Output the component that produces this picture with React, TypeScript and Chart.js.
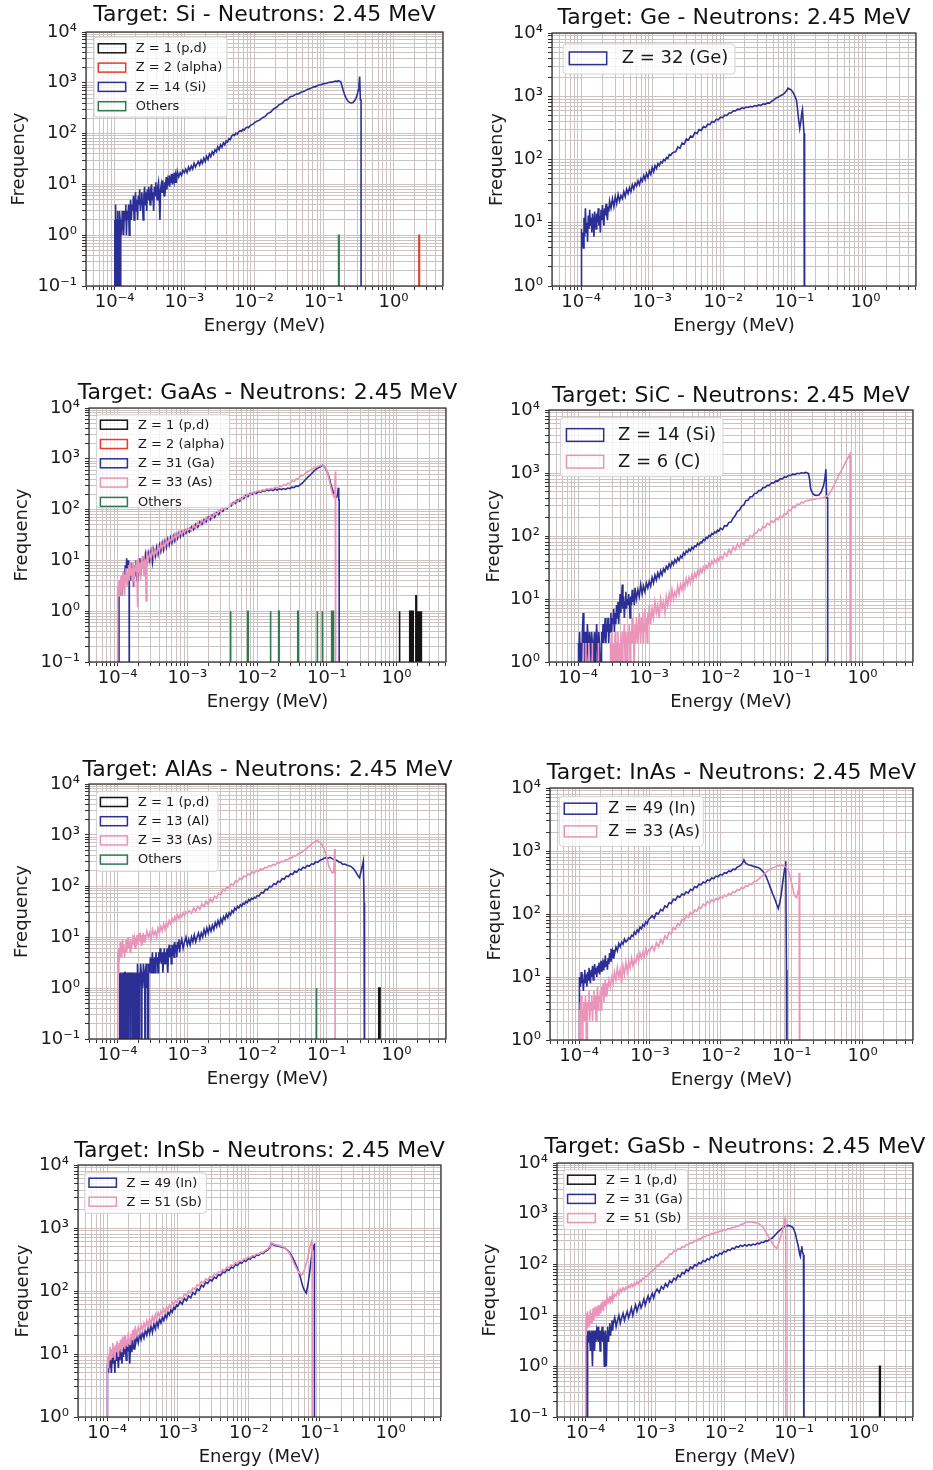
import React, { useEffect, useRef } from 'react';
import { Chart, registerables } from 'chart.js';

Chart.register(...registerables);

// ---------- style ----------
const FONT = '"DejaVu Sans", "Liberation Sans", sans-serif';
const BLUE = '#2b2f95';
const PINK = '#ea94b9';
const GREEN = '#2d7a4c';
const RED = '#e8392b';
const BLACK = '#141414';
const GRID = '#cbc2c2';

// ---------- axes ----------
const X_MIN = 3.89e-5;
const X_MAX = 5.13;
const Y_MAX = 1e4;
const ZERO_FLOOR = 1e-3; // empty bins are drawn below the axis floor

const xTickValues = [1e-4, 1e-3, 1e-2, 1e-1, 1];
const xTickLabels = ['10⁻⁴', '10⁻³', '10⁻²', '10⁻¹', '10⁰'];
const yTickValues = [1e-1, 1, 10, 100, 1000, 10000];
const yTickLabels = ['10⁻¹', '10⁰', '10¹', '10²', '10³', '10⁴'];
const gridMultipliers = [1, 2, 3, 4, 5, 6, 7, 8, 9];
const gridDecades = [-5, -4, -3, -2, -1, 0, 1, 2, 3, 4];

// ---------- data: each pair is [log10(energy / MeV), counts in bin] ----------
// Target Si
const siZ1: number[][] = [];
const siZ2 = [[0.365, 0], [0.365, 1], [0.372, 1], [0.372, 0]];
const siZ14 = [
  [-4.00, 0], [-4.00, 2], [-3.995, 2], [-3.995, 0], [-3.99, 0], [-3.99, 2], [-3.985, 4], [-3.98, 1], [-3.975, 0], [-3.97, 0], [-3.97, 2], [-3.965, 2], [-3.96, 0], [-3.955, 0], [-3.955, 3], [-3.95, 1], [-3.945, 2], [-3.94, 0], [-3.935, 0], [-3.935, 2], [-3.93, 1], [-3.925, 3], [-3.92, 2], [-3.915, 0], [-3.91, 0], [-3.91, 2],
  [-3.90, 1], [-3.89, 3], [-3.88, 2], [-3.87, 1], [-3.86, 3], [-3.85, 2], [-3.84, 4], [-3.83, 1], [-3.82, 3], [-3.81, 2], [-3.80, 4], [-3.79, 1], [-3.78, 3], [-3.77, 5], [-3.76, 2], [-3.75, 4], [-3.74, 3], [-3.73, 6], [-3.72, 2], [-3.71, 4], [-3.70, 7], [-3.69, 3], [-3.68, 5], [-3.67, 2], [-3.66, 6], [-3.65, 4], [-3.64, 8], [-3.63, 3], [-3.62, 5], [-3.61, 7], [-3.60, 4], [-3.59, 2], [-3.58, 6], [-3.57, 9], [-3.56, 4], [-3.55, 7], [-3.54, 3], [-3.53, 8], [-3.52, 5], [-3.51, 9], [-3.50, 6], [-3.49, 4], [-3.48, 8], [-3.47, 10], [-3.46, 5], [-3.45, 7], [-3.44, 3], [-3.43, 9], [-3.42, 6], [-3.41, 11], [-3.40, 7], [-3.39, 5], [-3.38, 9], [-3.37, 11], [-3.36, 6], [-3.35, 2], [-3.34, 8], [-3.33, 10], [-3.32, 7], [-3.31, 12], [-3.30, 8], [-3.29, 6], [-3.28, 11], [-3.27, 9], [-3.26, 14], [-3.25, 8], [-3.24, 12], [-3.23, 10], [-3.22, 15], [-3.21, 9], [-3.20, 13], [-3.19, 11], [-3.18, 16], [-3.17, 10], [-3.16, 14], [-3.15, 12], [-3.14, 17], [-3.13, 11], [-3.12, 15], [-3.11, 13], [-3.10, 18], [-3.08, 14], [-3.06, 17], [-3.04, 15], [-3.02, 19], [-3.00, 17],
  [-2.98, 20], [-2.96, 17], [-2.94, 22], [-2.92, 19], [-2.90, 23], [-2.88, 20], [-2.86, 26], [-2.84, 22], [-2.82, 25], [-2.80, 28], [-2.78, 24], [-2.76, 30], [-2.74, 26], [-2.72, 33], [-2.70, 28], [-2.68, 36], [-2.66, 31], [-2.64, 40], [-2.62, 35], [-2.60, 44], [-2.58, 39], [-2.56, 48], [-2.54, 44], [-2.52, 55], [-2.50, 48], [-2.48, 60], [-2.46, 54], [-2.44, 66], [-2.42, 60], [-2.40, 72], [-2.38, 68], [-2.36, 80], [-2.34, 76], [-2.32, 90], [-2.30, 95], [-2.28, 92], [-2.26, 102], [-2.24, 98], [-2.22, 108], [-2.20, 114], [-2.18, 110], [-2.16, 122], [-2.14, 118], [-2.12, 128], [-2.10, 134], [-2.08, 130], [-2.06, 142], [-2.04, 148], [-2.02, 152], [-2.00, 160],
  [-1.96, 176], [-1.92, 184], [-1.88, 206], [-1.84, 218], [-1.80, 250], [-1.76, 266], [-1.72, 306], [-1.68, 326], [-1.64, 372], [-1.60, 392], [-1.56, 448], [-1.52, 470], [-1.48, 532], [-1.44, 552], [-1.40, 598], [-1.36, 612], [-1.32, 658], [-1.28, 680], [-1.24, 740], [-1.20, 760], [-1.16, 820], [-1.12, 840], [-1.08, 898], [-1.04, 914], [-1.00, 962], [-0.96, 976], [-0.92, 1020], [-0.88, 1030], [-0.85, 1064], [-0.83, 1085], [-0.81, 1060], [-0.79, 1100], [-0.77, 1080], [-0.755, 1040],
  [-0.74, 880], [-0.72, 700], [-0.70, 580], [-0.68, 500], [-0.66, 450], [-0.64, 420], [-0.62, 405], [-0.60, 400], [-0.58, 412], [-0.56, 440], [-0.54, 490], [-0.52, 580], [-0.505, 720], [-0.495, 950], [-0.485, 1330], [-0.475, 460], [-0.465, 460], [-0.465, 0],
];
const siOthers = [[-0.787, 0], [-0.787, 1], [-0.780, 1], [-0.780, 0]];

// Target Ge
const geZ32 = [
  [-4.00, 0], [-4.00, 8], [-3.99, 5], [-3.98, 7], [-3.97, 4], [-3.96, 12], [-3.95, 6], [-3.94, 17], [-3.93, 7], [-3.92, 10], [-3.91, 5], [-3.90, 13], [-3.89, 8], [-3.88, 16], [-3.87, 9], [-3.86, 12], [-3.85, 7], [-3.84, 14], [-3.83, 10], [-3.82, 6], [-3.81, 15], [-3.80, 11], [-3.79, 8], [-3.78, 14], [-3.77, 10], [-3.76, 17], [-3.75, 9], [-3.74, 13], [-3.73, 7], [-3.72, 16], [-3.71, 11], [-3.70, 19], [-3.69, 12], [-3.68, 9], [-3.67, 17], [-3.66, 13], [-3.65, 20], [-3.64, 14], [-3.63, 11], [-3.62, 18], [-3.61, 15], [-3.60, 22],
  [-3.58, 17], [-3.56, 24], [-3.54, 18], [-3.52, 26], [-3.50, 20], [-3.48, 28], [-3.46, 22], [-3.44, 27], [-3.42, 24], [-3.40, 31], [-3.38, 26], [-3.36, 34], [-3.34, 29], [-3.32, 36], [-3.30, 31], [-3.28, 40], [-3.26, 34], [-3.24, 42], [-3.22, 38], [-3.20, 46], [-3.18, 40], [-3.16, 50], [-3.14, 45], [-3.12, 56], [-3.10, 48], [-3.08, 60], [-3.06, 52], [-3.04, 66], [-3.02, 58], [-3.00, 75], [-2.98, 64], [-2.96, 80], [-2.94, 72], [-2.92, 86], [-2.90, 80], [-2.88, 92], [-2.86, 88], [-2.84, 100], [-2.82, 96], [-2.80, 108], [-2.78, 104], [-2.76, 120], [-2.74, 116], [-2.72, 126], [-2.70, 130],
  [-2.67, 132], [-2.64, 158], [-2.61, 150], [-2.58, 182], [-2.55, 176], [-2.52, 210], [-2.49, 204], [-2.46, 236], [-2.43, 228], [-2.40, 268], [-2.37, 256], [-2.34, 298], [-2.31, 288], [-2.28, 332], [-2.25, 320], [-2.22, 362], [-2.19, 356], [-2.16, 398], [-2.13, 388], [-2.10, 432], [-2.07, 424], [-2.04, 468], [-2.01, 458], [-1.98, 502], [-1.95, 496], [-1.92, 542], [-1.89, 544], [-1.86, 590], [-1.83, 588], [-1.80, 626], [-1.77, 620], [-1.74, 656], [-1.71, 644], [-1.68, 676], [-1.65, 664], [-1.62, 692], [-1.59, 678], [-1.56, 712], [-1.53, 698], [-1.50, 732], [-1.47, 718], [-1.44, 756], [-1.41, 748], [-1.38, 786], [-1.35, 780],
  [-1.32, 832], [-1.29, 876], [-1.26, 934], [-1.23, 966], [-1.20, 1014], [-1.17, 1056], [-1.14, 1124], [-1.11, 1216], [-1.09, 1340], [-1.07, 1300], [-1.05, 1262], [-1.03, 1200],
  [-1.01, 1100], [-0.99, 980], [-0.97, 860], [-0.955, 600], [-0.94, 420], [-0.925, 310], [-0.91, 400], [-0.895, 560], [-0.887, 620], [-0.877, 400], [-0.865, 260], [-0.857, 250], [-0.857, 0],
];

// Target GaAs
const gaasZ1 = [
  [0.040, 0], [0.040, 1], [0.047, 1], [0.047, 0], [0.190, 0], [0.190, 1], [0.197, 1], [0.197, 0], [0.205, 0], [0.205, 1], [0.212, 1], [0.212, 0], [0.232, 0], [0.232, 1], [0.240, 1], [0.240, 0],
  [0.278, 0], [0.278, 2], [0.285, 2], [0.285, 0], [0.296, 0], [0.296, 1], [0.303, 1], [0.303, 0], [0.310, 0], [0.310, 1], [0.317, 1], [0.317, 0], [0.324, 0], [0.324, 1], [0.331, 1], [0.331, 0], [0.338, 0], [0.338, 1], [0.345, 1], [0.345, 0], [0.352, 0], [0.352, 1], [0.359, 1], [0.359, 0],
];
const gaasZ2: number[][] = [];
const gaasZ31 = [
  [-3.98, 0], [-3.98, 3], [-3.97, 2], [-3.96, 4], [-3.95, 3], [-3.94, 2], [-3.93, 5], [-3.92, 3], [-3.91, 6], [-3.90, 4], [-3.89, 8], [-3.88, 5], [-3.87, 11], [-3.86, 7], [-3.85, 10], [-3.84, 6], [-3.835, 6], [-3.835, 0], [-3.83, 0], [-3.83, 5], [-3.82, 8], [-3.81, 4], [-3.80, 9], [-3.79, 5], [-3.78, 7], [-3.77, 3], [-3.76, 8], [-3.75, 5], [-3.74, 10], [-3.73, 6], [-3.72, 4], [-3.71, 9], [-3.70, 6], [-3.69, 11], [-3.68, 7], [-3.67, 5], [-3.66, 10], [-3.65, 8], [-3.64, 12], [-3.63, 7], [-3.62, 11], [-3.61, 8], [-3.60, 13],
  [-3.58, 9], [-3.56, 14], [-3.54, 10], [-3.52, 15], [-3.50, 9], [-3.48, 16], [-3.46, 12], [-3.44, 18], [-3.42, 13], [-3.40, 20], [-3.38, 15], [-3.36, 22], [-3.34, 16], [-3.32, 24], [-3.30, 18], [-3.28, 26], [-3.26, 20], [-3.24, 28], [-3.22, 22], [-3.20, 30], [-3.18, 24], [-3.16, 32], [-3.14, 27], [-3.12, 35], [-3.10, 29], [-3.08, 36], [-3.06, 31], [-3.04, 38], [-3.02, 34], [-3.00, 40],
  [-2.97, 36], [-2.94, 46], [-2.91, 40], [-2.88, 52], [-2.85, 45], [-2.82, 58], [-2.79, 51], [-2.76, 64], [-2.73, 57], [-2.70, 71], [-2.67, 63], [-2.64, 78], [-2.61, 70], [-2.58, 86], [-2.55, 79], [-2.52, 96], [-2.49, 92], [-2.46, 110], [-2.43, 104], [-2.40, 124], [-2.37, 118], [-2.34, 138], [-2.31, 132], [-2.28, 156], [-2.25, 146], [-2.22, 170], [-2.19, 164], [-2.16, 190], [-2.13, 180], [-2.10, 208], [-2.07, 198], [-2.04, 218], [-2.01, 210],
  [-1.98, 226], [-1.95, 218], [-1.92, 236], [-1.89, 228], [-1.86, 244], [-1.83, 236], [-1.80, 248], [-1.77, 238], [-1.74, 254], [-1.71, 242], [-1.68, 256], [-1.65, 248], [-1.62, 260], [-1.59, 250], [-1.56, 266], [-1.53, 260], [-1.50, 276], [-1.47, 270], [-1.44, 292], [-1.41, 286], [-1.38, 310],
  [-1.35, 330], [-1.32, 370], [-1.29, 410], [-1.26, 450], [-1.23, 490], [-1.20, 540], [-1.17, 600], [-1.14, 640], [-1.11, 680], [-1.08, 720], [-1.06, 740], [-1.04, 720], [-1.02, 660], [-1.00, 580], [-0.98, 500], [-0.96, 400], [-0.94, 307], [-0.92, 250], [-0.90, 210], [-0.88, 180], [-0.86, 175], [-0.845, 200], [-0.835, 270], [-0.828, 155], [-0.822, 155], [-0.822, 0],
];
const gaasZ33 = [
  [-4.00, 0], [-4.00, 3], [-3.99, 2], [-3.98, 4], [-3.97, 2], [-3.96, 3], [-3.95, 5], [-3.94, 2], [-3.93, 4], [-3.92, 6], [-3.91, 3], [-3.90, 2], [-3.89, 5], [-3.88, 7], [-3.87, 4], [-3.86, 3], [-3.85, 6], [-3.84, 8], [-3.83, 4], [-3.82, 9], [-3.81, 5], [-3.80, 7], [-3.79, 4], [-3.78, 9], [-3.77, 6], [-3.76, 3], [-3.75, 8], [-3.74, 6], [-3.73, 10], [-3.72, 5], [-3.715, 1.2], [-3.71, 8], [-3.70, 11], [-3.69, 6], [-3.68, 9], [-3.67, 4], [-3.66, 10], [-3.65, 7], [-3.64, 12], [-3.63, 8], [-3.62, 5], [-3.61, 11], [-3.60, 9], [-3.59, 1.6], [-3.58, 13],
  [-3.56, 10], [-3.54, 14], [-3.52, 11], [-3.50, 17], [-3.48, 12], [-3.46, 16], [-3.44, 13], [-3.42, 19], [-3.40, 15], [-3.38, 21], [-3.36, 17], [-3.34, 23], [-3.32, 18], [-3.30, 25], [-3.28, 21], [-3.26, 27], [-3.24, 23], [-3.22, 29], [-3.20, 25], [-3.18, 33], [-3.16, 27], [-3.14, 34], [-3.12, 30], [-3.10, 37], [-3.08, 32], [-3.06, 39], [-3.04, 35], [-3.02, 41], [-3.00, 38],
  [-2.97, 44], [-2.94, 38], [-2.91, 50], [-2.88, 43], [-2.85, 56], [-2.82, 48], [-2.79, 62], [-2.76, 54], [-2.73, 70], [-2.70, 61], [-2.67, 78], [-2.64, 68], [-2.61, 88], [-2.58, 78], [-2.55, 96], [-2.52, 90], [-2.49, 108], [-2.46, 100], [-2.43, 120], [-2.40, 112], [-2.37, 134], [-2.34, 126], [-2.31, 150], [-2.28, 140], [-2.25, 166], [-2.22, 158], [-2.19, 184], [-2.16, 176], [-2.13, 202], [-2.10, 194], [-2.07, 218], [-2.04, 210], [-2.01, 228],
  [-1.98, 236], [-1.95, 228], [-1.92, 246], [-1.89, 238], [-1.86, 258], [-1.83, 250], [-1.80, 262], [-1.77, 256], [-1.74, 276], [-1.71, 266], [-1.68, 290], [-1.65, 282], [-1.62, 308], [-1.59, 300], [-1.56, 330], [-1.53, 322], [-1.50, 366], [-1.47, 356], [-1.44, 406], [-1.41, 398], [-1.38, 458], [-1.35, 462],
  [-1.32, 500], [-1.29, 540], [-1.26, 570], [-1.23, 610], [-1.20, 640], [-1.17, 670], [-1.14, 700], [-1.11, 720], [-1.08, 740], [-1.06, 745], [-1.04, 720], [-1.02, 680], [-1.00, 600], [-0.98, 480], [-0.96, 360], [-0.94, 270], [-0.92, 210], [-0.90, 180], [-0.885, 190], [-0.878, 560], [-0.872, 560], [-0.872, 0],
];
const gaasOthers = [
  [-2.383, 0], [-2.383, 1], [-2.376, 1], [-2.376, 0], [-2.134, 0], [-2.134, 1], [-2.127, 1], [-2.127, 0], [-1.810, 0], [-1.810, 1], [-1.803, 1], [-1.803, 0], [-1.690, 0], [-1.690, 1], [-1.683, 1], [-1.683, 0],
  [-1.416, 0], [-1.416, 1], [-1.409, 1], [-1.409, 0], [-1.139, 0], [-1.139, 1], [-1.132, 1], [-1.132, 0], [-1.067, 0], [-1.067, 1], [-1.060, 1], [-1.060, 0], [-0.930, 0], [-0.930, 1], [-0.923, 1], [-0.923, 0], [-0.911, 0], [-0.911, 1], [-0.904, 1], [-0.904, 0],
];

// Target SiC
const sicZ14 = [
  [-4.00, 0], [-4.00, 2], [-3.99, 1], [-3.98, 3], [-3.97, 1], [-3.96, 2], [-3.95, 1], [-3.94, 3], [-3.93, 6], [-3.92, 2], [-3.91, 1], [-3.90, 3], [-3.89, 2], [-3.88, 1], [-3.87, 4], [-3.86, 2], [-3.85, 1], [-3.84, 3], [-3.83, 2], [-3.82, 1], [-3.81, 3], [-3.80, 2], [-3.79, 1], [-3.78, 2], [-3.77, 3], [-3.76, 1], [-3.75, 2], [-3.74, 4], [-3.73, 2], [-3.72, 1], [-3.71, 3], [-3.70, 2], [-3.69, 1], [-3.68, 0], [-3.67, 3], [-3.66, 2], [-3.65, 4], [-3.64, 2], [-3.63, 3], [-3.62, 5], [-3.61, 2], [-3.60, 4], [-3.59, 3], [-3.58, 5], [-3.57, 2], [-3.56, 4], [-3.55, 3], [-3.54, 6], [-3.53, 3], [-3.52, 5], [-3.51, 4], [-3.50, 7], [-3.49, 3], [-3.48, 6], [-3.47, 4], [-3.46, 8], [-3.45, 5], [-3.44, 9], [-3.43, 4], [-3.42, 7], [-3.41, 12], [-3.40, 6], [-3.39, 10], [-3.38, 17], [-3.37, 7], [-3.36, 11], [-3.35, 5], [-3.34, 9], [-3.33, 13], [-3.32, 7], [-3.31, 10], [-3.30, 8], [-3.29, 12], [-3.28, 9], [-3.27, 5], [-3.26, 11], [-3.25, 8], [-3.24, 14], [-3.23, 9], [-3.22, 12], [-3.21, 8], [-3.20, 15],
  [-3.18, 10], [-3.16, 14], [-3.14, 11], [-3.12, 17], [-3.10, 12], [-3.08, 16], [-3.06, 13], [-3.04, 18], [-3.02, 15], [-3.00, 19], [-2.98, 16], [-2.96, 22], [-2.94, 18], [-2.92, 24], [-2.90, 20], [-2.88, 26], [-2.86, 22], [-2.84, 28], [-2.82, 24], [-2.80, 30], [-2.78, 27], [-2.76, 33], [-2.74, 30], [-2.72, 36], [-2.70, 32], [-2.68, 39], [-2.66, 35], [-2.64, 42], [-2.62, 38], [-2.60, 45], [-2.58, 41], [-2.56, 48], [-2.54, 45], [-2.52, 54], [-2.50, 50], [-2.48, 58], [-2.46, 55], [-2.44, 62], [-2.42, 58], [-2.40, 66], [-2.38, 62], [-2.36, 70], [-2.34, 68], [-2.32, 76], [-2.30, 72], [-2.28, 80], [-2.26, 78], [-2.24, 88], [-2.22, 84], [-2.20, 95], [-2.18, 92], [-2.16, 102], [-2.14, 98], [-2.12, 110], [-2.10, 106], [-2.08, 116], [-2.06, 112], [-2.04, 124], [-2.02, 120], [-2.00, 133],
  [-1.97, 126], [-1.94, 146], [-1.91, 144], [-1.88, 164], [-1.85, 166], [-1.82, 192], [-1.79, 212], [-1.76, 246], [-1.73, 258], [-1.70, 298], [-1.67, 310], [-1.64, 366], [-1.61, 370], [-1.58, 420], [-1.55, 420], [-1.52, 474], [-1.49, 478], [-1.46, 526], [-1.43, 528], [-1.40, 586], [-1.37, 588], [-1.34, 636], [-1.31, 636], [-1.28, 700], [-1.25, 690], [-1.22, 748], [-1.19, 744], [-1.16, 806], [-1.13, 804], [-1.10, 866], [-1.07, 856], [-1.04, 918], [-1.01, 914], [-0.98, 960], [-0.95, 948], [-0.92, 988], [-0.89, 972], [-0.86, 1008], [-0.83, 990], [-0.80, 1022], [-0.78, 1008], [-0.76, 980],
  [-0.745, 800], [-0.73, 560], [-0.70, 470], [-0.67, 445], [-0.64, 440], [-0.61, 450], [-0.58, 500], [-0.55, 620], [-0.53, 800], [-0.515, 1150], [-0.505, 400], [-0.49, 400], [-0.49, 0],
];
const sicZ6 = [
  [-3.93, 0], [-3.93, 2], [-3.92, 1], [-3.90, 0], [-3.89, 2], [-3.88, 0], [-3.85, 0], [-3.85, 2], [-3.84, 1], [-3.82, 0], [-3.80, 0], [-3.80, 2], [-3.79, 0], [-3.72, 0], [-3.72, 2], [-3.71, 0], [-3.55, 0], [-3.55, 2], [-3.54, 1], [-3.53, 3], [-3.52, 1], [-3.51, 0], [-3.50, 2], [-3.49, 1], [-3.48, 3], [-3.47, 2], [-3.46, 0], [-3.45, 2], [-3.44, 3], [-3.43, 1], [-3.42, 2], [-3.41, 0], [-3.40, 3], [-3.39, 2], [-3.38, 1], [-3.37, 3], [-3.36, 2], [-3.35, 4], [-3.34, 1], [-3.33, 3], [-3.32, 2], [-3.31, 0], [-3.30, 3], [-3.29, 2], [-3.28, 4], [-3.27, 1], [-3.26, 3], [-3.25, 2], [-3.24, 5], [-3.23, 2], [-3.22, 3], [-3.21, 1], [-3.20, 4], [-3.19, 2], [-3.18, 5], [-3.17, 3], [-3.16, 2], [-3.15, 4], [-3.14, 6], [-3.13, 3], [-3.12, 2], [-3.11, 5], [-3.10, 3], [-3.09, 6], [-3.08, 2], [-3.07, 4], [-3.06, 7], [-3.05, 3], [-3.04, 5], [-3.03, 2], [-3.02, 6], [-3.01, 4], [-3.00, 8],
  [-2.98, 4], [-2.96, 7], [-2.94, 5], [-2.92, 9], [-2.90, 6], [-2.88, 8], [-2.86, 5], [-2.84, 10], [-2.82, 7], [-2.80, 9], [-2.78, 6], [-2.76, 11], [-2.74, 8], [-2.72, 12], [-2.70, 9], [-2.68, 14], [-2.66, 10], [-2.64, 13], [-2.62, 11], [-2.60, 16], [-2.58, 12], [-2.56, 17], [-2.54, 14], [-2.52, 19], [-2.50, 15], [-2.48, 21], [-2.46, 17], [-2.44, 22], [-2.42, 18], [-2.40, 24], [-2.38, 20], [-2.36, 26], [-2.34, 22], [-2.32, 28], [-2.30, 24], [-2.28, 30], [-2.26, 26], [-2.24, 32], [-2.22, 28], [-2.20, 34], [-2.18, 31], [-2.16, 37], [-2.14, 33], [-2.12, 40], [-2.10, 36], [-2.08, 42], [-2.06, 38], [-2.04, 45], [-2.02, 41], [-2.00, 48],
  [-1.97, 43], [-1.94, 54], [-1.91, 48], [-1.88, 61], [-1.85, 53], [-1.82, 67], [-1.79, 60], [-1.76, 74], [-1.73, 66], [-1.70, 80], [-1.67, 72], [-1.64, 88], [-1.61, 84], [-1.58, 101], [-1.55, 96], [-1.52, 113], [-1.49, 110], [-1.46, 128], [-1.43, 122], [-1.40, 143], [-1.37, 136], [-1.34, 158], [-1.31, 150], [-1.28, 174], [-1.25, 164], [-1.22, 190], [-1.19, 180], [-1.16, 206], [-1.13, 196], [-1.10, 226], [-1.07, 220], [-1.04, 258], [-1.01, 252], [-0.98, 292], [-0.95, 284], [-0.92, 322], [-0.89, 312], [-0.86, 344], [-0.83, 336], [-0.80, 360],
  [-0.76, 368], [-0.72, 375], [-0.68, 385], [-0.64, 390], [-0.60, 395], [-0.56, 400], [-0.52, 420], [-0.48, 450], [-0.45, 500], [-0.42, 575], [-0.39, 680], [-0.36, 800], [-0.33, 940], [-0.30, 1080], [-0.27, 1250], [-0.24, 1480], [-0.21, 1700], [-0.19, 1850], [-0.175, 2000], [-0.17, 0],
];

// Target AlAs
const alasZ1 = [[-0.254, 0], [-0.254, 1], [-0.247, 1], [-0.247, 0], [-0.242, 0], [-0.242, 1], [-0.236, 1], [-0.236, 0]];
const alasZ13 = [
  [-3.97, 0], [-3.97, 2], [-3.965, 1], [-3.96, 0], [-3.955, 0], [-3.955, 2], [-3.95, 1], [-3.945, 0], [-3.94, 0], [-3.94, 1], [-3.93, 2], [-3.925, 0], [-3.92, 0], [-3.92, 2], [-3.91, 1], [-3.905, 0], [-3.90, 0], [-3.90, 2], [-3.89, 2], [-3.885, 0], [-3.875, 0], [-3.875, 1], [-3.87, 2], [-3.865, 0], [-3.86, 0], [-3.86, 2], [-3.85, 1], [-3.845, 0], [-3.84, 0], [-3.84, 2], [-3.83, 1], [-3.82, 2], [-3.815, 0], [-3.81, 0], [-3.81, 2], [-3.80, 1], [-3.79, 2], [-3.785, 0], [-3.78, 0], [-3.78, 1], [-3.77, 2], [-3.76, 1], [-3.755, 0], [-3.75, 0], [-3.75, 2], [-3.74, 1], [-3.73, 2], [-3.725, 0], [-3.72, 0], [-3.72, 2], [-3.71, 3], [-3.70, 1], [-3.695, 0], [-3.69, 0], [-3.69, 2], [-3.68, 1], [-3.67, 3], [-3.66, 2], [-3.655, 0], [-3.65, 0], [-3.65, 2], [-3.64, 1], [-3.63, 3], [-3.62, 2], [-3.61, 1], [-3.605, 0], [-3.60, 0], [-3.60, 2], [-3.59, 3], [-3.58, 1], [-3.57, 2], [-3.565, 0], [-3.56, 0], [-3.56, 2],
  [-3.55, 3], [-3.54, 2], [-3.53, 4], [-3.52, 2], [-3.51, 3], [-3.50, 5], [-3.49, 2], [-3.48, 3], [-3.47, 4], [-3.46, 2], [-3.45, 5], [-3.44, 3], [-3.43, 4], [-3.42, 2], [-3.41, 5], [-3.40, 3], [-3.39, 6], [-3.38, 4], [-3.37, 3], [-3.36, 5], [-3.35, 2], [-3.34, 4], [-3.33, 6], [-3.32, 3], [-3.31, 5], [-3.30, 4], [-3.29, 6], [-3.28, 2], [-3.27, 5], [-3.26, 7], [-3.25, 4], [-3.24, 6], [-3.23, 3], [-3.22, 7], [-3.21, 5], [-3.20, 6], [-3.19, 4], [-3.18, 8], [-3.17, 5], [-3.16, 7], [-3.15, 4], [-3.14, 8], [-3.13, 6], [-3.12, 9], [-3.11, 5], [-3.10, 7], [-3.08, 9], [-3.06, 6], [-3.04, 8], [-3.02, 10], [-3.00, 7],
  [-2.98, 9], [-2.96, 7], [-2.94, 10], [-2.92, 8], [-2.90, 11], [-2.88, 8], [-2.86, 10], [-2.84, 12], [-2.82, 9], [-2.80, 12], [-2.78, 10], [-2.76, 14], [-2.74, 11], [-2.72, 15], [-2.70, 12], [-2.68, 16], [-2.66, 13], [-2.64, 17], [-2.62, 14], [-2.60, 19], [-2.58, 16], [-2.56, 21], [-2.54, 17], [-2.52, 23], [-2.50, 19], [-2.48, 25], [-2.46, 22], [-2.44, 28], [-2.42, 24], [-2.40, 30], [-2.38, 27], [-2.36, 33], [-2.34, 30], [-2.32, 37], [-2.30, 34], [-2.28, 40], [-2.26, 37], [-2.24, 43], [-2.22, 40], [-2.20, 46], [-2.18, 44], [-2.16, 50], [-2.14, 47], [-2.12, 54], [-2.10, 51], [-2.08, 57], [-2.06, 55], [-2.04, 60], [-2.02, 58], [-2.00, 64],
  [-1.97, 64], [-1.94, 75], [-1.91, 73], [-1.88, 86], [-1.85, 84], [-1.82, 98], [-1.79, 96], [-1.76, 111], [-1.73, 107], [-1.70, 124], [-1.67, 120], [-1.64, 140], [-1.61, 136], [-1.58, 157], [-1.55, 152], [-1.52, 174], [-1.49, 168], [-1.46, 194], [-1.43, 186], [-1.40, 214], [-1.37, 206], [-1.34, 234], [-1.31, 226], [-1.28, 252], [-1.25, 244], [-1.22, 272], [-1.19, 266], [-1.16, 296], [-1.13, 290], [-1.10, 316],
  [-1.07, 330], [-1.04, 350], [-1.01, 360], [-0.98, 350], [-0.95, 365], [-0.92, 340], [-0.89, 330], [-0.86, 320], [-0.83, 300], [-0.80, 290], [-0.77, 265], [-0.74, 270], [-0.71, 255], [-0.68, 250], [-0.65, 240], [-0.62, 220], [-0.59, 195], [-0.56, 165], [-0.54, 150], [-0.53, 145], [-0.51, 190], [-0.49, 250], [-0.475, 310], [-0.465, 47], [-0.458, 47], [-0.458, 0],
];
const alasZ33 = [
  [-4.00, 0], [-4.00, 1], [-3.995, 5], [-3.99, 2], [-3.985, 6], [-3.98, 3], [-3.97, 5], [-3.96, 8], [-3.95, 4], [-3.94, 6], [-3.93, 9], [-3.92, 5], [-3.91, 7], [-3.90, 4], [-3.89, 6], [-3.88, 9], [-3.87, 5], [-3.86, 7], [-3.85, 10], [-3.84, 6], [-3.83, 8], [-3.82, 5], [-3.81, 9], [-3.80, 6], [-3.79, 8], [-3.78, 11], [-3.77, 7], [-3.76, 9], [-3.75, 6], [-3.74, 10], [-3.73, 8], [-3.72, 11], [-3.71, 7], [-3.70, 9], [-3.69, 12], [-3.68, 8], [-3.67, 10], [-3.66, 7], [-3.65, 11], [-3.64, 9], [-3.63, 12], [-3.62, 8], [-3.61, 11], [-3.60, 9],
  [-3.58, 13], [-3.56, 10], [-3.54, 12], [-3.52, 9], [-3.50, 14], [-3.48, 11], [-3.46, 13], [-3.44, 10], [-3.42, 15], [-3.40, 12], [-3.38, 16], [-3.36, 13], [-3.34, 18], [-3.32, 14], [-3.30, 19], [-3.28, 16], [-3.26, 21], [-3.24, 18], [-3.22, 23], [-3.20, 20], [-3.18, 25], [-3.16, 21], [-3.14, 27], [-3.12, 23], [-3.10, 28], [-3.08, 25], [-3.06, 30], [-3.04, 26], [-3.02, 31], [-3.00, 29],
  [-2.97, 33], [-2.94, 29], [-2.91, 37], [-2.88, 32], [-2.85, 40], [-2.82, 35], [-2.79, 45], [-2.76, 39], [-2.73, 50], [-2.70, 43], [-2.67, 56], [-2.64, 49], [-2.61, 63], [-2.58, 58], [-2.55, 72], [-2.52, 68], [-2.49, 84], [-2.46, 80], [-2.43, 96], [-2.40, 92], [-2.37, 110], [-2.34, 104], [-2.31, 126], [-2.28, 120], [-2.25, 142], [-2.22, 134], [-2.19, 158], [-2.16, 150], [-2.13, 174], [-2.10, 164], [-2.07, 190], [-2.04, 180], [-2.01, 202], [-1.98, 194], [-1.95, 218], [-1.92, 208], [-1.89, 232], [-1.86, 226], [-1.83, 250], [-1.80, 242], [-1.77, 266], [-1.74, 258], [-1.71, 286], [-1.68, 280], [-1.65, 306], [-1.62, 298], [-1.59, 330], [-1.56, 326], [-1.53, 360], [-1.50, 356], [-1.47, 392], [-1.44, 390], [-1.41, 430], [-1.38, 440],
  [-1.35, 470], [-1.32, 500], [-1.29, 540], [-1.26, 590], [-1.23, 640], [-1.20, 690], [-1.17, 740], [-1.15, 780], [-1.13, 760], [-1.10, 720], [-1.07, 650], [-1.04, 540], [-1.02, 450], [-1.00, 360], [-0.97, 245], [-0.94, 200], [-0.92, 180], [-0.90, 185], [-0.888, 515], [-0.88, 515], [-0.88, 0],
];
const alasOthers = [[-1.152, 0], [-1.152, 1], [-1.145, 1], [-1.145, 0]];

// Target InAs
const inasZ49 = [
  [-4.00, 0], [-4.00, 6], [-3.99, 10], [-3.98, 7], [-3.97, 12], [-3.96, 8], [-3.95, 11], [-3.94, 6], [-3.93, 9], [-3.92, 13], [-3.91, 8], [-3.90, 11], [-3.89, 7], [-3.88, 12], [-3.87, 9], [-3.86, 14], [-3.85, 10], [-3.84, 8], [-3.83, 13], [-3.82, 10], [-3.81, 15], [-3.80, 9], [-3.79, 12], [-3.78, 16], [-3.77, 11], [-3.76, 14], [-3.75, 10], [-3.74, 15], [-3.73, 12], [-3.72, 17], [-3.71, 11], [-3.70, 14], [-3.69, 18], [-3.68, 12], [-3.67, 16], [-3.66, 13], [-3.65, 19], [-3.64, 14], [-3.63, 22], [-3.62, 15], [-3.61, 18], [-3.60, 13], [-3.59, 20], [-3.58, 16], [-3.57, 24], [-3.56, 18], [-3.55, 28], [-3.54, 21], [-3.53, 25], [-3.52, 20], [-3.51, 27], [-3.50, 23],
  [-3.48, 30], [-3.46, 26], [-3.44, 34], [-3.42, 30], [-3.40, 36], [-3.38, 33], [-3.36, 40], [-3.34, 36], [-3.32, 38], [-3.30, 42], [-3.28, 40], [-3.26, 46], [-3.24, 44], [-3.22, 52], [-3.20, 48], [-3.18, 56], [-3.16, 52], [-3.14, 62], [-3.12, 58], [-3.10, 68], [-3.08, 64], [-3.06, 75], [-3.04, 70], [-3.02, 82], [-3.00, 85],
  [-2.97, 94], [-2.94, 86], [-2.91, 104], [-2.88, 100], [-2.85, 118], [-2.82, 112], [-2.79, 134], [-2.76, 128], [-2.73, 152], [-2.70, 146], [-2.67, 172], [-2.64, 166], [-2.61, 192], [-2.58, 184], [-2.55, 208], [-2.52, 200], [-2.49, 224], [-2.46, 214], [-2.43, 246], [-2.40, 236], [-2.37, 272], [-2.34, 262], [-2.31, 298], [-2.28, 290], [-2.25, 322], [-2.22, 312], [-2.19, 348], [-2.16, 336], [-2.13, 374], [-2.10, 362], [-2.07, 400], [-2.04, 390], [-2.01, 426], [-1.98, 414], [-1.95, 452], [-1.92, 442], [-1.89, 482], [-1.86, 472], [-1.83, 516], [-1.80, 508], [-1.77, 552],
  [-1.74, 575], [-1.71, 610], [-1.69, 660], [-1.675, 720], [-1.66, 660], [-1.64, 630], [-1.62, 610], [-1.60, 600], [-1.57, 590], [-1.54, 570], [-1.51, 560], [-1.48, 545], [-1.45, 530], [-1.42, 490], [-1.39, 450], [-1.36, 390], [-1.33, 320], [-1.30, 260], [-1.27, 210], [-1.24, 175], [-1.21, 140], [-1.19, 122], [-1.17, 150], [-1.15, 200], [-1.13, 300], [-1.11, 440], [-1.095, 560], [-1.085, 690], [-1.075, 13], [-1.068, 13], [-1.068, 0],
];
const inasZ33 = [
  [-4.00, 0], [-4.00, 3], [-3.995, 1], [-3.99, 0], [-3.985, 0], [-3.985, 4], [-3.98, 2], [-3.97, 5], [-3.96, 3], [-3.955, 1], [-3.95, 0], [-3.945, 0], [-3.945, 3], [-3.94, 2], [-3.93, 4], [-3.92, 2], [-3.91, 5], [-3.90, 3], [-3.895, 1], [-3.89, 0], [-3.885, 0], [-3.885, 2], [-3.88, 4], [-3.87, 3], [-3.86, 6], [-3.85, 2], [-3.84, 4], [-3.83, 3], [-3.82, 5], [-3.81, 2], [-3.80, 4], [-3.79, 6], [-3.78, 3], [-3.77, 5], [-3.76, 2], [-3.75, 4], [-3.74, 7], [-3.73, 3], [-3.72, 5], [-3.71, 4], [-3.70, 6], [-3.69, 3], [-3.68, 7], [-3.67, 5], [-3.66, 8], [-3.65, 4], [-3.64, 6], [-3.63, 9], [-3.62, 5], [-3.61, 8], [-3.60, 6],
  [-3.58, 9], [-3.56, 7], [-3.54, 10], [-3.52, 8], [-3.50, 12], [-3.48, 9], [-3.46, 14], [-3.44, 10], [-3.42, 13], [-3.40, 8], [-3.38, 15], [-3.36, 11], [-3.34, 17], [-3.32, 12], [-3.30, 18], [-3.28, 14], [-3.26, 20], [-3.24, 15], [-3.22, 19], [-3.20, 17], [-3.18, 22], [-3.16, 18], [-3.14, 24], [-3.12, 20], [-3.10, 25], [-3.08, 21], [-3.06, 28], [-3.04, 23], [-3.02, 27], [-3.00, 26],
  [-2.97, 31], [-2.94, 26], [-2.91, 35], [-2.88, 30], [-2.85, 39], [-2.82, 34], [-2.79, 45], [-2.76, 41], [-2.73, 52], [-2.70, 48], [-2.67, 61], [-2.64, 57], [-2.61, 71], [-2.58, 66], [-2.55, 82], [-2.52, 78], [-2.49, 94], [-2.46, 88], [-2.43, 106], [-2.40, 98], [-2.37, 116], [-2.34, 110], [-2.31, 130], [-2.28, 122], [-2.25, 144], [-2.22, 134], [-2.19, 158], [-2.16, 148], [-2.13, 168], [-2.10, 158], [-2.07, 176], [-2.04, 168], [-2.01, 188], [-1.98, 180], [-1.95, 200], [-1.92, 190], [-1.89, 212], [-1.86, 202], [-1.83, 226], [-1.80, 218], [-1.77, 244], [-1.74, 236], [-1.71, 262], [-1.68, 254], [-1.65, 282], [-1.62, 274], [-1.59, 302], [-1.56, 296], [-1.53, 326],
  [-1.50, 335], [-1.47, 355], [-1.44, 380], [-1.41, 410], [-1.38, 440], [-1.35, 470], [-1.32, 500], [-1.29, 525], [-1.26, 545], [-1.23, 565], [-1.20, 580], [-1.17, 590], [-1.14, 592], [-1.11, 580], [-1.08, 550], [-1.05, 500], [-1.03, 420], [-1.01, 340], [-0.99, 270], [-0.97, 215], [-0.95, 190], [-0.93, 182], [-0.915, 215], [-0.90, 260], [-0.895, 450], [-0.888, 450], [-0.888, 0],
];

// Target InSb
const insbZ49 = [
  [-4.00, 0], [-4.00, 4], [-3.99, 7], [-3.98, 5], [-3.97, 9], [-3.96, 6], [-3.95, 10], [-3.94, 5], [-3.93, 8], [-3.92, 12], [-3.91, 7], [-3.90, 9], [-3.89, 5], [-3.88, 11], [-3.87, 8], [-3.86, 13], [-3.85, 9], [-3.84, 6], [-3.83, 11], [-3.82, 8], [-3.81, 14], [-3.80, 10], [-3.79, 7], [-3.78, 12], [-3.77, 9], [-3.76, 15], [-3.75, 10], [-3.74, 13], [-3.73, 8], [-3.72, 14], [-3.71, 11], [-3.70, 16], [-3.69, 12], [-3.68, 7], [-3.67, 14], [-3.66, 11], [-3.65, 17], [-3.64, 13], [-3.63, 15], [-3.62, 12], [-3.61, 18], [-3.60, 14],
  [-3.58, 19], [-3.56, 15], [-3.54, 21], [-3.52, 17], [-3.50, 22], [-3.48, 18], [-3.46, 24], [-3.44, 20], [-3.42, 26], [-3.40, 21], [-3.38, 28], [-3.36, 22], [-3.34, 30], [-3.32, 25], [-3.30, 33], [-3.28, 27], [-3.26, 36], [-3.24, 31], [-3.22, 38], [-3.20, 34], [-3.18, 42], [-3.16, 37], [-3.14, 46], [-3.12, 42], [-3.10, 50], [-3.08, 46], [-3.06, 55], [-3.04, 52], [-3.02, 60], [-3.00, 58],
  [-2.97, 68], [-2.94, 62], [-2.91, 76], [-2.88, 70], [-2.85, 84], [-2.82, 78], [-2.79, 94], [-2.76, 88], [-2.73, 108], [-2.70, 102], [-2.67, 124], [-2.64, 116], [-2.61, 138], [-2.58, 132], [-2.55, 152], [-2.52, 144], [-2.49, 166], [-2.46, 158], [-2.43, 182], [-2.40, 176], [-2.37, 200], [-2.34, 194], [-2.31, 220], [-2.28, 212], [-2.25, 240], [-2.22, 232], [-2.19, 262], [-2.16, 254], [-2.13, 284], [-2.10, 276], [-2.07, 304], [-2.04, 296], [-2.01, 326], [-1.98, 320], [-1.95, 350], [-1.92, 342], [-1.89, 376], [-1.86, 368], [-1.83, 400], [-1.80, 392], [-1.77, 424],
  [-1.74, 440], [-1.71, 480], [-1.69, 540], [-1.68, 575], [-1.66, 545], [-1.63, 530], [-1.60, 520], [-1.57, 510], [-1.54, 500], [-1.51, 490], [-1.48, 470], [-1.45, 440], [-1.42, 400], [-1.39, 350], [-1.36, 300], [-1.33, 250], [-1.30, 210], [-1.27, 160], [-1.25, 130], [-1.23, 110], [-1.21, 100], [-1.19, 93], [-1.17, 120], [-1.15, 170], [-1.13, 260], [-1.11, 400], [-1.09, 510], [-1.075, 540], [-1.075, 0],
];
const insbZ51 = [
  [-4.00, 0], [-4.00, 5], [-3.99, 9], [-3.98, 6], [-3.97, 10], [-3.96, 13], [-3.95, 8], [-3.94, 12], [-3.93, 9], [-3.92, 15], [-3.91, 10], [-3.90, 13], [-3.89, 8], [-3.88, 14], [-3.87, 11], [-3.86, 16], [-3.85, 12], [-3.84, 9], [-3.83, 15], [-3.82, 12], [-3.81, 17], [-3.80, 11], [-3.79, 14], [-3.78, 19], [-3.77, 13], [-3.76, 16], [-3.75, 12], [-3.74, 20], [-3.73, 14], [-3.72, 17], [-3.71, 13], [-3.70, 22], [-3.69, 15], [-3.68, 18], [-3.67, 14], [-3.66, 21], [-3.65, 17], [-3.64, 24], [-3.63, 18], [-3.62, 22], [-3.61, 17], [-3.60, 25],
  [-3.58, 20], [-3.56, 27], [-3.54, 22], [-3.52, 29], [-3.50, 24], [-3.48, 31], [-3.46, 26], [-3.44, 34], [-3.42, 28], [-3.40, 36], [-3.38, 30], [-3.36, 39], [-3.34, 33], [-3.32, 42], [-3.30, 36], [-3.28, 45], [-3.26, 39], [-3.24, 48], [-3.22, 43], [-3.20, 52], [-3.18, 46], [-3.16, 56], [-3.14, 50], [-3.12, 60], [-3.10, 55], [-3.08, 66], [-3.06, 60], [-3.04, 70], [-3.02, 66], [-3.00, 74],
  [-2.97, 80], [-2.94, 74], [-2.91, 90], [-2.88, 84], [-2.85, 100], [-2.82, 94], [-2.79, 112], [-2.76, 106], [-2.73, 126], [-2.70, 120], [-2.67, 142], [-2.64, 134], [-2.61, 156], [-2.58, 148], [-2.55, 170], [-2.52, 162], [-2.49, 186], [-2.46, 178], [-2.43, 202], [-2.40, 194], [-2.37, 220], [-2.34, 212], [-2.31, 240], [-2.28, 232], [-2.25, 260], [-2.22, 252], [-2.19, 282], [-2.16, 272], [-2.13, 302], [-2.10, 294], [-2.07, 322], [-2.04, 314], [-2.01, 346], [-1.98, 338], [-1.95, 368], [-1.92, 360], [-1.89, 392], [-1.86, 384], [-1.83, 414], [-1.80, 408], [-1.77, 440],
  [-1.74, 460], [-1.71, 500], [-1.69, 550], [-1.68, 580], [-1.66, 560], [-1.63, 545], [-1.60, 535], [-1.57, 525], [-1.54, 515], [-1.51, 500], [-1.48, 470], [-1.45, 430], [-1.42, 380], [-1.39, 320], [-1.36, 270], [-1.33, 230], [-1.30, 200], [-1.27, 185], [-1.25, 180], [-1.23, 195], [-1.21, 230], [-1.19, 275], [-1.17, 340], [-1.15, 430], [-1.13, 540], [-1.115, 610], [-1.108, 560], [-1.105, 0],
];

// Target GaSb
const gasbZ1 = [[0.222, 0], [0.222, 1], [0.229, 1], [0.229, 0], [0.233, 0], [0.233, 1], [0.240, 1], [0.240, 0]];
const gasbZ31 = [
  [-3.985, 0], [-3.985, 4], [-3.98, 3], [-3.975, 0], [-3.97, 0], [-3.97, 5], [-3.96, 3], [-3.95, 5], [-3.94, 4], [-3.93, 2], [-3.92, 5], [-3.91, 3], [-3.90, 1], [-3.89, 5], [-3.88, 4], [-3.87, 2], [-3.86, 5], [-3.85, 3], [-3.84, 5], [-3.83, 4], [-3.82, 6], [-3.81, 3], [-3.80, 5], [-3.79, 2], [-3.78, 5], [-3.77, 4], [-3.76, 6], [-3.75, 3], [-3.74, 5], [-3.73, 1], [-3.72, 4], [-3.71, 5], [-3.70, 1], [-3.69, 4], [-3.68, 6], [-3.67, 3], [-3.66, 5], [-3.65, 7], [-3.64, 4], [-3.63, 6], [-3.62, 8], [-3.61, 5], [-3.60, 7],
  [-3.58, 9], [-3.56, 6], [-3.54, 8], [-3.52, 10], [-3.50, 7], [-3.48, 9], [-3.46, 11], [-3.44, 8], [-3.42, 10], [-3.40, 12], [-3.38, 9], [-3.36, 11], [-3.34, 14], [-3.32, 10], [-3.30, 13], [-3.28, 16], [-3.26, 12], [-3.24, 15], [-3.22, 18], [-3.20, 14], [-3.18, 17], [-3.16, 21], [-3.14, 16], [-3.12, 20], [-3.10, 24], [-3.08, 19], [-3.06, 23], [-3.04, 27], [-3.02, 22], [-3.00, 28],
  [-2.97, 33], [-2.94, 28], [-2.91, 37], [-2.88, 33], [-2.85, 42], [-2.82, 37], [-2.79, 48], [-2.76, 44], [-2.73, 54], [-2.70, 50], [-2.67, 62], [-2.64, 57], [-2.61, 70], [-2.58, 66], [-2.55, 80], [-2.52, 74], [-2.49, 90], [-2.46, 84], [-2.43, 100], [-2.40, 94], [-2.37, 110], [-2.34, 104], [-2.31, 120], [-2.28, 114], [-2.25, 130], [-2.22, 124], [-2.19, 144], [-2.16, 136], [-2.13, 156], [-2.10, 148], [-2.07, 168], [-2.04, 160], [-2.01, 184], [-1.98, 176], [-1.95, 196], [-1.92, 190], [-1.89, 212], [-1.86, 204], [-1.83, 228], [-1.80, 220], [-1.77, 240], [-1.74, 228], [-1.71, 246], [-1.68, 232], [-1.65, 250], [-1.62, 238], [-1.59, 254], [-1.56, 244], [-1.53, 264], [-1.50, 256], [-1.47, 278], [-1.44, 270], [-1.41, 296], [-1.38, 290], [-1.35, 316], [-1.32, 330],
  [-1.29, 360], [-1.26, 400], [-1.23, 440], [-1.20, 480], [-1.17, 520], [-1.14, 560], [-1.11, 580], [-1.08, 590], [-1.05, 570], [-1.02, 540], [-1.00, 480], [-0.98, 400], [-0.96, 300], [-0.94, 230], [-0.92, 160], [-0.91, 145], [-0.90, 190], [-0.89, 230], [-0.88, 180], [-0.865, 155], [-0.858, 155], [-0.858, 0],
];
const gasbZ51 = [
  [-4.00, 0], [-4.00, 3], [-3.995, 8], [-3.99, 5], [-3.985, 11], [-3.98, 7], [-3.97, 12], [-3.96, 6], [-3.95, 10], [-3.94, 8], [-3.93, 13], [-3.92, 7], [-3.91, 11], [-3.90, 9], [-3.89, 14], [-3.88, 8], [-3.87, 12], [-3.86, 10], [-3.85, 15], [-3.84, 11], [-3.83, 13], [-3.82, 10], [-3.81, 16], [-3.80, 12], [-3.79, 14], [-3.78, 11], [-3.77, 18], [-3.76, 13], [-3.75, 16], [-3.74, 14], [-3.73, 20], [-3.72, 15], [-3.71, 18], [-3.70, 16], [-3.69, 22], [-3.68, 17], [-3.67, 20], [-3.66, 18], [-3.65, 24], [-3.64, 19], [-3.63, 22], [-3.62, 20], [-3.61, 27], [-3.60, 21],
  [-3.58, 26], [-3.56, 24], [-3.54, 30], [-3.52, 26], [-3.50, 33], [-3.48, 29], [-3.46, 35], [-3.44, 31], [-3.42, 36], [-3.40, 33], [-3.38, 38], [-3.36, 35], [-3.34, 41], [-3.32, 37], [-3.30, 43], [-3.28, 40], [-3.26, 46], [-3.24, 42], [-3.22, 50], [-3.20, 46], [-3.18, 54], [-3.16, 52], [-3.14, 60], [-3.12, 58], [-3.10, 64], [-3.08, 66], [-3.06, 72], [-3.04, 74], [-3.02, 80], [-3.00, 84],
  [-2.97, 96], [-2.94, 96], [-2.91, 116], [-2.88, 112], [-2.85, 132], [-2.82, 136], [-2.79, 162], [-2.76, 160], [-2.73, 186], [-2.70, 180], [-2.67, 206], [-2.64, 200], [-2.61, 228], [-2.58, 220], [-2.55, 250], [-2.52, 244], [-2.49, 274], [-2.46, 266], [-2.43, 298], [-2.40, 290], [-2.37, 324], [-2.34, 318], [-2.31, 356], [-2.28, 350], [-2.25, 386], [-2.22, 378], [-2.19, 412], [-2.16, 402], [-2.13, 434], [-2.10, 426], [-2.07, 458], [-2.04, 450], [-2.01, 486], [-1.98, 478], [-1.95, 512], [-1.92, 504], [-1.89, 542], [-1.86, 534], [-1.83, 572], [-1.80, 566], [-1.77, 614], [-1.74, 626],
  [-1.71, 660], [-1.68, 690], [-1.66, 700], [-1.63, 690], [-1.60, 680], [-1.57, 670], [-1.54, 665], [-1.51, 640], [-1.48, 600], [-1.45, 550], [-1.42, 470], [-1.39, 400], [-1.36, 340], [-1.33, 290], [-1.30, 245], [-1.27, 220], [-1.25, 210], [-1.23, 240], [-1.20, 330], [-1.17, 460], [-1.15, 600], [-1.13, 790], [-1.12, 600], [-1.115, 0],
];

// ---------- layout ----------
const LPAD = 80;
const RPAD = 20;
const TPAD = 32;
const BPAD = 56;

type Series = { label: string; color: string; data: number[][] };
type Legend = { x: number; y: number; w: number; h: number; row0: number; gap: number; mx: number; mw: number; mh: number; tx: number; size: number };
type PanelCfg = { title: string; plot: number[]; yMin: number; yTitleGap: number; titleGap: number; legend: Legend; series: Series[] };

const PANELS: PanelCfg[] = [
  {
    title: 'Target: Si - Neutrons: 2.45 MeV', plot: [86, 32, 443, 286], yMin: 0.1, yTitleGap: 67, titleGap: 17,
    legend: { x: 8, y: 5, w: 133, h: 80, row0: 11.3, gap: 19.3, mx: 12.3, mw: 27.4, mh: 9, tx: 49.7, size: 13 },
    series: [
      { label: 'Z = 1 (p,d)', color: BLACK, data: siZ1 },
      { label: 'Z = 2 (alpha)', color: RED, data: siZ2 },
      { label: 'Z = 14 (Si)', color: BLUE, data: siZ14 },
      { label: 'Others', color: GREEN, data: siOthers },
    ],
  },
  {
    title: 'Target: Ge - Neutrons: 2.45 MeV', plot: [552, 33, 916, 286], yMin: 1, yTitleGap: 55, titleGap: 15,
    legend: { x: 11, y: 11, w: 172, h: 30, row0: 14.3, gap: 0, mx: 17.3, mw: 37.4, mh: 12.6, tx: 69.7, size: 18 },
    series: [{ label: 'Z = 32 (Ge)', color: BLUE, data: geZ32 }],
  },
  {
    title: 'Target: GaAs - Neutrons: 2.45 MeV', plot: [89, 408, 446, 662], yMin: 0.1, yTitleGap: 67, titleGap: 15,
    legend: { x: 7.4, y: 6.7, w: 133.3, h: 93, row0: 10, gap: 19.3, mx: 11.4, mw: 27, mh: 9, tx: 49, size: 13 },
    series: [
      { label: 'Z = 1 (p,d)', color: BLACK, data: gaasZ1 },
      { label: 'Z = 2 (alpha)', color: RED, data: gaasZ2 },
      { label: 'Z = 31 (Ga)', color: BLUE, data: gaasZ31 },
      { label: 'Z = 33 (As)', color: PINK, data: gaasZ33 },
      { label: 'Others', color: GREEN, data: gaasOthers },
    ],
  },
  {
    title: 'Target: SiC - Neutrons: 2.45 MeV', plot: [549, 410, 913, 662], yMin: 1, yTitleGap: 55, titleGap: 14,
    legend: { x: 11.4, y: 7.7, w: 162.6, h: 59, row0: 17.3, gap: 26.7, mx: 17.4, mw: 37.3, mh: 12.7, tx: 69, size: 18 },
    series: [
      { label: 'Z = 14 (Si)', color: BLUE, data: sicZ14 },
      { label: 'Z = 6 (C)', color: PINK, data: sicZ6 },
    ],
  },
  {
    title: 'Target: AlAs - Neutrons: 2.45 MeV', plot: [89, 784, 446, 1039], yMin: 0.1, yTitleGap: 67, titleGap: 14,
    legend: { x: 7.4, y: 7.4, w: 121.6, h: 80, row0: 10.6, gap: 19.2, mx: 11.4, mw: 27, mh: 9, tx: 49, size: 13 },
    series: [
      { label: 'Z = 1 (p,d)', color: BLACK, data: alasZ1 },
      { label: 'Z = 13 (Al)', color: BLUE, data: alasZ13 },
      { label: 'Z = 33 (As)', color: PINK, data: alasZ33 },
      { label: 'Others', color: GREEN, data: alasOthers },
    ],
  },
  {
    title: 'Target: InAs - Neutrons: 2.45 MeV', plot: [550, 788, 913, 1040], yMin: 1, yTitleGap: 55, titleGap: 15,
    legend: { x: 9.3, y: 8.4, w: 144, h: 50, row0: 12.3, gap: 22.7, mx: 14.3, mw: 32.4, mh: 11, tx: 58.3, size: 16 },
    series: [
      { label: 'Z = 49 (In)', color: BLUE, data: inasZ49 },
      { label: 'Z = 33 (As)', color: PINK, data: inasZ33 },
    ],
  },
  {
    title: 'Target: InSb - Neutrons: 2.45 MeV', plot: [78, 1165, 441, 1417], yMin: 1, yTitleGap: 55, titleGap: 14,
    legend: { x: 6.7, y: 7.7, w: 121.7, h: 40.6, row0: 10, gap: 19, mx: 11, mw: 27.4, mh: 9, tx: 48.4, size: 13 },
    series: [
      { label: 'Z = 49 (In)', color: BLUE, data: insbZ49 },
      { label: 'Z = 51 (Sb)', color: PINK, data: insbZ51 },
    ],
  },
  {
    title: 'Target: GaSb - Neutrons: 2.45 MeV', plot: [557, 1163, 913, 1417], yMin: 0.1, yTitleGap: 67, titleGap: 16,
    legend: { x: 6.6, y: 6.7, w: 124, h: 60, row0: 10, gap: 19.2, mx: 10.6, mw: 27.7, mh: 9, tx: 49, size: 13 },
    series: [
      { label: 'Z = 1 (p,d)', color: BLACK, data: gasbZ1 },
      { label: 'Z = 31 (Ga)', color: BLUE, data: gasbZ31 },
      { label: 'Z = 51 (Sb)', color: PINK, data: gasbZ51 },
    ],
  },
];

// ---------- helpers ----------
function gridTicks(min: number, max: number) {
  const out: { value: number; major: boolean }[] = [];
  for (const d of gridDecades) {
    for (const m of gridMultipliers) {
      const v = m * Math.pow(10, d);
      if (v >= min * 0.9999 && v <= max * 1.0001) out.push({ value: v, major: m === 1 });
    }
  }
  return out;
}

function labelFor(v: number, values: number[], labels: string[]) {
  for (let i = 0; i < values.length; i++) {
    if (Math.abs(Math.log10(v / values[i])) < 1e-6) return labels[i];
  }
  return '';
}

function toPoints(arr: number[][]) {
  return arr.map(([lx, n]) => ({ x: Math.pow(10, lx), y: n > 0 ? n : ZERO_FLOOR }));
}

function decorPlugin(p: PanelCfg) {
  return {
    id: 'decor',
    afterDraw(chart: any) {
      const { ctx, chartArea: a } = chart;
      ctx.save();
      // title
      ctx.fillStyle = '#111111';
      ctx.font = `22px ${FONT}`;
      ctx.textAlign = 'center';
      ctx.textBaseline = 'middle';
      ctx.fillText(p.title, (a.left + a.right) / 2, a.top - p.titleGap);
      // legend
      const L = p.legend;
      const x0 = a.left + L.x;
      const y0 = a.top + L.y;
      ctx.beginPath();
      if (ctx.roundRect) ctx.roundRect(x0, y0, L.w, L.h, 3);
      else ctx.rect(x0, y0, L.w, L.h);
      ctx.fillStyle = 'rgba(255,255,255,0.8)';
      ctx.fill();
      ctx.strokeStyle = '#d2d2d2';
      ctx.lineWidth = 1;
      ctx.stroke();
      ctx.font = `${L.size}px ${FONT}`;
      ctx.textAlign = 'left';
      ctx.textBaseline = 'middle';
      p.series.forEach((s, i) => {
        const cy = y0 + L.row0 + i * L.gap;
        ctx.strokeStyle = s.color;
        ctx.lineWidth = 1.5;
        ctx.strokeRect(a.left + L.mx, cy - L.mh / 2, L.mw, L.mh);
        ctx.fillStyle = '#1a1a1a';
        ctx.fillText(s.label, a.left + L.tx, cy + 0.5);
      });
      // axes frame
      ctx.strokeStyle = '#262626';
      ctx.lineWidth = 1.2;
      ctx.strokeRect(a.left, a.top, a.right - a.left, a.bottom - a.top);
      ctx.restore();
    },
  };
}

function buildConfig(p: PanelCfg): any {
  const n = p.series.length;
  const tickFont = { family: FONT, size: 18 };
  const titleFont = { family: FONT, size: 18 };
  return {
    type: 'line',
    data: {
      datasets: p.series.map((s, i) => ({
        label: s.label,
        data: toPoints(s.data),
        borderColor: s.color,
        backgroundColor: s.color,
        borderWidth: 1.6,
        pointRadius: 0,
        pointHoverRadius: 0,
        tension: 0,
        fill: false,
        order: n - i,
      })),
    },
    options: {
      animation: false,
      responsive: false,
      devicePixelRatio: 1,
      events: [],
      parsing: false,
      layout: { padding: { top: TPAD, right: RPAD, left: 0, bottom: 0 } },
      plugins: { legend: { display: false }, tooltip: { enabled: false }, title: { display: false } },
      scales: {
        x: {
          type: 'logarithmic',
          position: 'bottom',
          min: X_MIN,
          max: X_MAX,
          afterBuildTicks: (ax: any) => { ax.ticks = gridTicks(ax.min, ax.max); },
          afterFit: (ax: any) => { ax.height = BPAD; },
          ticks: {
            autoSkip: false, maxRotation: 0, minRotation: 0, padding: 2, color: '#1a1a1a', font: tickFont,
            callback: (v: any) => labelFor(Number(v), xTickValues, xTickLabels),
          },
          grid: { color: GRID, lineWidth: 1, drawTicks: true, tickLength: 4, tickColor: '#333333', tickWidth: 1 },
          border: { display: false },
          title: { display: true, text: 'Energy (MeV)', color: '#1a1a1a', font: titleFont, padding: { top: 0, bottom: 4.7 } },
        },
        y: {
          type: 'logarithmic',
          position: 'left',
          min: p.yMin,
          max: Y_MAX,
          afterBuildTicks: (ax: any) => { ax.ticks = gridTicks(ax.min, ax.max); },
          afterFit: (ax: any) => { ax.width = LPAD; },
          ticks: {
            autoSkip: false, padding: 5, color: '#1a1a1a', font: tickFont,
            callback: (v: any) => labelFor(Number(v), yTickValues, yTickLabels),
          },
          grid: { color: GRID, lineWidth: 1, drawTicks: true, tickLength: 4, tickColor: '#333333', tickWidth: 1 },
          border: { display: false },
          title: { display: true, text: 'Frequency', color: '#1a1a1a', font: titleFont, padding: { top: LPAD - p.yTitleGap - 10.8, bottom: 0 } },
        },
      },
    },
    plugins: [decorPlugin(p)],
  };
}

function Panel({ p }: { p: PanelCfg }) {
  const ref = useRef<HTMLCanvasElement>(null);
  const [l, t, r, b] = p.plot;
  const w = r - l + LPAD + RPAD;
  const h = b - t + TPAD + BPAD;
  useEffect(() => {
    const chart = new Chart(ref.current as HTMLCanvasElement, buildConfig(p));
    return () => chart.destroy();
  }, [p]);
  return (
    <canvas
      ref={ref}
      width={w}
      height={h}
      style={{ position: 'absolute', left: l - LPAD, top: t - TPAD, width: w, height: h }}
    />
  );
}

export default function App() {
  return (
    <div style={{ position: 'absolute', left: 0, top: 0, width: 933, height: 1470, overflow: 'hidden', background: '#ffffff' }}>
      {PANELS.map((p, i) => <Panel key={i} p={p} />)}
    </div>
  );
}
